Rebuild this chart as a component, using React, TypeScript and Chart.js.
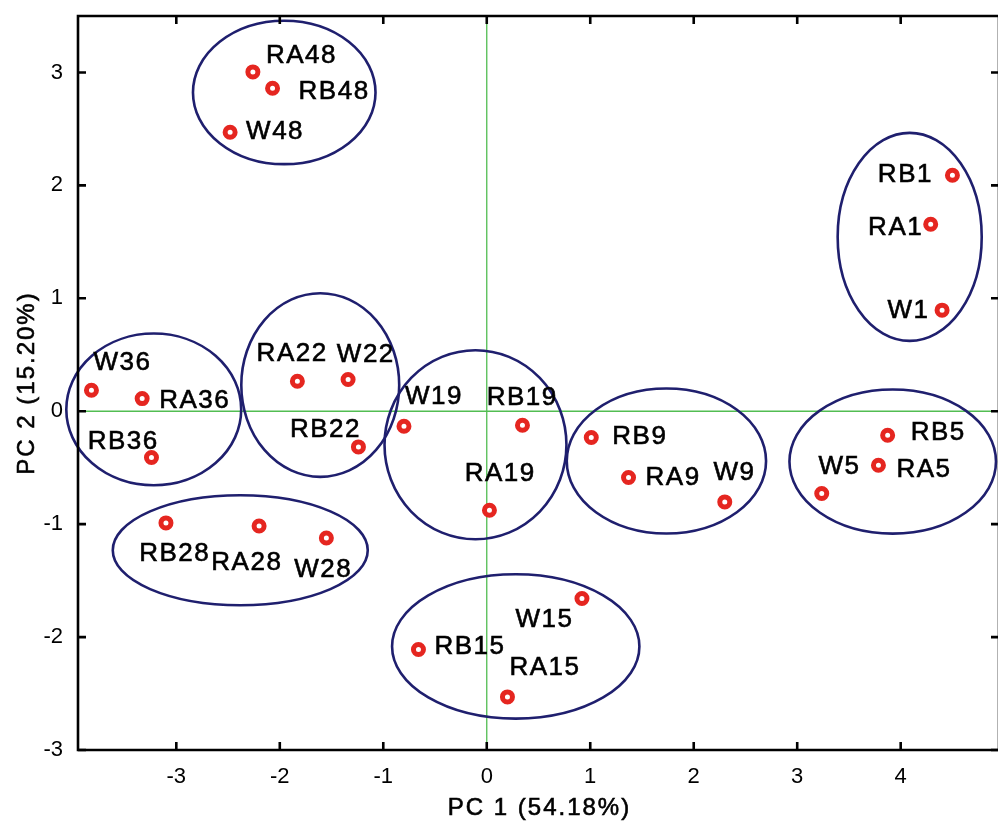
import React, { useEffect, useRef } from "react";
import { Chart, registerables } from "chart.js";

Chart.register(...registerables);

// ---- data ----
const sampleNames = [
  "RA48", "RB48", "W48", "RB1", "RA1", "W1", "W36", "RA36", "RB36",
  "RA22", "W22", "RB22", "W19", "RB19", "RA19", "RB9", "RA9", "W9",
  "RB5", "RA5", "W5", "RB28", "RA28", "W28", "W15", "RB15", "RA15",
];
const pc1Scores = [
  -2.26, -2.07, -2.48, 4.5, 4.29, 4.4, -3.82, -3.33, -3.24,
  -1.83, -1.34, -1.24, -0.8, 0.345, 0.026, 1.01, 1.37, 2.3,
  3.874, 3.785, 3.237, -3.1, -2.2, -1.55, 0.92, -0.66, 0.2,
];
const pc2Scores = [
  3.005, 2.86, 2.47, 2.09, 1.656, 0.895, 0.186, 0.112, -0.41,
  0.266, 0.281, -0.316, -0.133, -0.124, -0.877, -0.233, -0.587, -0.803,
  -0.213, -0.478, -0.729, -0.989, -1.016, -1.122, -1.659, -2.11, -2.53,
];
// group ellipses (data units)
const groupCenterX = [-1.957, 4.087, -3.218, -1.609, -0.109, 1.736, 3.923, -2.382, 0.28];
const groupCenterY = [2.823, 1.544, 0.016, 0.232, -0.297, -0.441, -0.446, -1.231, -2.083];
const groupRadiusX = [0.882, 0.696, 0.845, 0.763, 0.879, 0.963, 0.998, 1.232, 1.195];
const groupRadiusY = [0.635, 0.921, 0.672, 0.813, 0.837, 0.642, 0.638, 0.487, 0.639];
const xTickValues = [-3, -2, -1, 0, 1, 2, 3, 4];
const yTickValues = [-3, -2, -1, 0, 1, 2, 3];
const xAxisTitle = "PC 1 (54.18%)";
const yAxisTitle = "PC 2 (15.20%)";

// ---- styles (label placement, pixels) ----
const labelPlacement: [number, number, CanvasTextAlign][] = [
  [13, -16, "left"], [26, 4, "left"], [16, 0, "left"],
  [-21, 0, "right"], [-9, 4, "right"], [-14, 1, "right"],
  [2, -27, "left"], [17, 2, "left"], [-29, -16, "center"],
  [-6, -27, "center"], [17, -25, "center"], [1, -17, "right"],
  [1, -29, "left"], [-1, -27, "center"], [10, -36, "center"],
  [21, -1, "left"], [17, 0, "left"], [9, -29, "center"],
  [23, -2, "left"], [18, 5, "left"], [17, -27, "center"],
  [8, 31, "center"], [-13, 37, "center"], [-4, 32, "center"],
  [-10, 21, "right"], [16, -3, "left"], [2, -29, "left"],
];

const FONT = "'Liberation Sans', Arial, Helvetica, sans-serif";
const CW = 1009;
const CH = 826;

const drawText = (ctx: CanvasRenderingContext2D, s: string, x: number, y: number) => {
  ctx.fillText(s, x, y);
  ctx.strokeText(s, x, y);
};

const decorPlugin = {
  id: "decor",
  beforeDatasetsDraw(chart: any) {
    const { ctx, chartArea: a, scales } = chart;
    const xs = scales.x;
    const ys = scales.y;
    ctx.save();
    // zero lines
    ctx.strokeStyle = "#52bd52";
    ctx.lineWidth = 1.3;
    const x0 = xs.getPixelForValue(0);
    const y0 = ys.getPixelForValue(0);
    ctx.beginPath();
    ctx.moveTo(a.left, y0);
    ctx.lineTo(a.right, y0);
    ctx.moveTo(x0, a.top);
    ctx.lineTo(x0, a.bottom);
    ctx.stroke();
    // ellipses
    ctx.strokeStyle = "#1f1f6e";
    ctx.lineWidth = 2.6;
    for (let i = 0; i < groupCenterX.length; i++) {
      const cx = xs.getPixelForValue(groupCenterX[i]);
      const cy = ys.getPixelForValue(groupCenterY[i]);
      const rx = Math.abs(xs.getPixelForValue(groupCenterX[i] + groupRadiusX[i]) - cx);
      const ry = Math.abs(ys.getPixelForValue(groupCenterY[i] + groupRadiusY[i]) - cy);
      ctx.beginPath();
      ctx.ellipse(cx, cy, rx, ry, 0, 0, Math.PI * 2);
      ctx.stroke();
    }
    ctx.restore();
  },
  afterDatasetsDraw(chart: any) {
    const { ctx, chartArea: a, scales } = chart;
    const xs = scales.x;
    const ys = scales.y;
    ctx.save();
    // frame
    ctx.strokeStyle = "#000";
    ctx.lineWidth = 2.6;
    ctx.beginPath();
    ctx.rect(a.left, a.top, a.right - a.left, a.bottom - a.top);
    ctx.stroke();
    // inward ticks on all four sides
    const tl = 8;
    ctx.beginPath();
    for (const v of xTickValues) {
      const px = xs.getPixelForValue(v);
      ctx.moveTo(px, a.bottom);
      ctx.lineTo(px, a.bottom - tl);
      ctx.moveTo(px, a.top);
      ctx.lineTo(px, a.top + tl);
    }
    for (const v of yTickValues) {
      const py = ys.getPixelForValue(v);
      ctx.moveTo(a.left, py);
      ctx.lineTo(a.left + tl, py);
      ctx.moveTo(a.right, py);
      ctx.lineTo(a.right - tl, py);
    }
    ctx.stroke();
    // point labels
    ctx.fillStyle = "#000";
    ctx.strokeStyle = "#000";
    ctx.lineWidth = 0.6;
    ctx.font = `26px ${FONT}`;
    (ctx as any).letterSpacing = "1.5px";
    ctx.textBaseline = "middle";
    const meta = chart.getDatasetMeta(0);
    meta.data.forEach((el: any, i: number) => {
      const [dx, dy, al] = labelPlacement[i];
      ctx.textAlign = al;
      const extra = al === "right" ? 1.5 : al === "center" ? 0.75 : 0;
      drawText(ctx, sampleNames[i], el.x + dx + extra, el.y + dy);
    });
    // axis titles
    ctx.font = `24px ${FONT}`;
    (ctx as any).letterSpacing = "2px";
    ctx.textAlign = "center";
    drawText(ctx, xAxisTitle, (a.left + a.right) / 2 + 1, 808);
    ctx.translate(27, (a.top + a.bottom) / 2);
    ctx.rotate(-Math.PI / 2);
    drawText(ctx, yAxisTitle, 0, 0);
    ctx.restore();
  },
};

export default function App() {
  const ref = useRef<HTMLCanvasElement>(null);
  useEffect(() => {
    if (!ref.current) return;
    const chart = new Chart(ref.current, {
      type: "scatter",
      data: {
        datasets: [
          {
            data: pc1Scores.map((x, i) => ({ x, y: pc2Scores[i] })),
            pointRadius: 5,
            pointBorderWidth: 5,
            pointBorderColor: "#e52620",
            pointBackgroundColor: "#ffffff",
            pointHoverRadius: 5,
          },
        ],
      },
      options: {
        responsive: false,
        animation: false,
        devicePixelRatio: 1,
        layout: { padding: { top: 16, right: 0, left: 0, bottom: 0 } },
        plugins: { legend: { display: false }, tooltip: { enabled: false } },
        scales: {
          x: {
            type: "linear",
            min: -3.95,
            max: 4.95,
            afterFit: (s: any) => {
              s.height = 76;
              s.paddingLeft = 0;
              s.paddingRight = 0;
            },
            afterBuildTicks: (s: any) => { s.ticks = xTickValues.map((v) => ({ value: v })); },
            grid: { display: false, drawTicks: false },
            border: { display: false },
            ticks: {
              includeBounds: false,
              padding: 14,
              color: "#000",
              font: { family: FONT, size: 22 },
              callback: (v: any) => String(v),
            },
          },
          y: {
            type: "linear",
            min: -3,
            max: 3.5,
            afterFit: (s: any) => {
              s.width = 78;
              s.paddingTop = 0;
              s.paddingBottom = 0;
            },
            afterBuildTicks: (s: any) => { s.ticks = yTickValues.map((v) => ({ value: v })); },
            grid: { display: false, drawTicks: false },
            border: { display: false },
            ticks: {
              includeBounds: false,
              padding: 15,
              color: "#000",
              font: { family: FONT, size: 22 },
              callback: (v: any) => String(v),
            },
          },
        },
      },
      plugins: [decorPlugin],
    });
    return () => chart.destroy();
  }, []);
  return (
    <div style={{ position: "fixed", left: 0, top: 0, width: 998, height: 826, overflow: "hidden", background: "#fff" }}>
      <canvas ref={ref} width={CW} height={CH} style={{ width: CW, height: CH, display: "block" }} />
    </div>
  );
}
